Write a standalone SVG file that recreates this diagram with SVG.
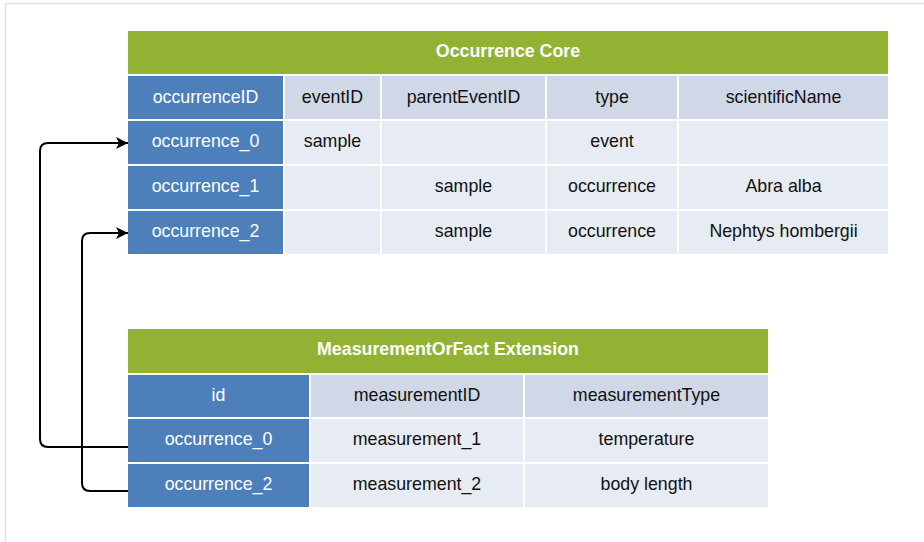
<svg xmlns="http://www.w3.org/2000/svg" width="924" height="542" viewBox="0 0 924 542">
<defs>
<style>
.t{font-family:"Liberation Sans",Arial,Helvetica,sans-serif;font-size:17.8px;text-anchor:middle}
.title{fill:#ffffff;font-weight:bold}
.w{fill:#ffffff}
.k{fill:#111111}
.g{fill:#93b234}
.b{fill:#4d7fbb}
.h{fill:#d0d7e6}
.d{fill:#e7ebf3}
.conn{fill:none;stroke:#000;stroke-width:2;stroke-linejoin:round}
</style>
<marker id="arr" markerWidth="14" markerHeight="12" refX="12" refY="6" orient="auto" markerUnits="userSpaceOnUse">
<path d="M0,0 L12,6 L0,12 L3,6 Z" fill="#000"/>
</marker>
</defs>
<rect x="0" y="0" width="924" height="542" fill="#ffffff"/>
<path d="M5.5,542 V3.5 H924" fill="none" stroke="#e2e2de" stroke-width="1.5"/>

<g id="occurrence-core">
<rect class="g" x="128" y="31" width="760" height="43"/>
<text class="t title" x="508" y="57">Occurrence Core</text>
<rect class="b" x="128" y="76" width="155" height="43"/>
<rect class="h" x="285" y="76" width="95" height="43"/>
<rect class="h" x="382" y="76" width="163" height="43"/>
<rect class="h" x="547" y="76" width="130" height="43"/>
<rect class="h" x="679" y="76" width="209" height="43"/>
<text class="t w" x="205.5" y="102.5">occurrenceID</text>
<text class="t k" x="332.5" y="102.5">eventID</text>
<text class="t k" x="463.5" y="102.5">parentEventID</text>
<text class="t k" x="612" y="102.5">type</text>
<text class="t k" x="783.5" y="102.5">scientificName</text>
<rect class="b" x="128" y="121" width="155" height="43"/>
<rect class="d" x="285" y="121" width="95" height="43"/>
<rect class="d" x="382" y="121" width="163" height="43"/>
<rect class="d" x="547" y="121" width="130" height="43"/>
<rect class="d" x="679" y="121" width="209" height="43"/>
<text class="t w" x="205.5" y="146.5">occurrence_0</text>
<text class="t k" x="332.5" y="146.5">sample</text>
<text class="t k" x="612" y="146.5">event</text>
<rect class="b" x="128" y="166" width="155" height="43"/>
<rect class="d" x="285" y="166" width="95" height="43"/>
<rect class="d" x="382" y="166" width="163" height="43"/>
<rect class="d" x="547" y="166" width="130" height="43"/>
<rect class="d" x="679" y="166" width="209" height="43"/>
<text class="t w" x="205.5" y="191.5">occurrence_1</text>
<text class="t k" x="463.5" y="191.5">sample</text>
<text class="t k" x="612" y="191.5">occurrence</text>
<text class="t k" x="783.5" y="191.5">Abra alba</text>
<rect class="b" x="128" y="211" width="155" height="43"/>
<rect class="d" x="285" y="211" width="95" height="43"/>
<rect class="d" x="382" y="211" width="163" height="43"/>
<rect class="d" x="547" y="211" width="130" height="43"/>
<rect class="d" x="679" y="211" width="209" height="43"/>
<text class="t w" x="205.5" y="236.5">occurrence_2</text>
<text class="t k" x="463.5" y="236.5">sample</text>
<text class="t k" x="612" y="236.5">occurrence</text>
<text class="t k" x="783.5" y="236.5">Nephtys hombergii</text>
</g>

<g id="measurement-extension">
<rect class="g" x="128" y="329" width="640" height="44"/>
<text class="t title" x="448" y="355">MeasurementOrFact Extension</text>
<rect class="b" x="128" y="375" width="181" height="42"/>
<rect class="h" x="311" y="375" width="212" height="42"/>
<rect class="h" x="525" y="375" width="243" height="42"/>
<text class="t w" x="218.5" y="400.5">id</text>
<text class="t k" x="417" y="400.5">measurementID</text>
<text class="t k" x="646.5" y="400.5">measurementType</text>
<rect class="b" x="128" y="419" width="181" height="43"/>
<rect class="d" x="311" y="419" width="212" height="43"/>
<rect class="d" x="525" y="419" width="243" height="43"/>
<text class="t w" x="218.5" y="444.5">occurrence_0</text>
<text class="t k" x="417" y="444.5">measurement_1</text>
<text class="t k" x="646.5" y="444.5">temperature</text>
<rect class="b" x="128" y="464" width="181" height="43"/>
<rect class="d" x="311" y="464" width="212" height="43"/>
<rect class="d" x="525" y="464" width="243" height="43"/>
<text class="t w" x="218.5" y="489.5">occurrence_2</text>
<text class="t k" x="417" y="489.5">measurement_2</text>
<text class="t k" x="646.5" y="489.5">body length</text>
</g>

<g id="connectors">
<path class="conn" d="M128,447 H48 Q40,447 40,439 V151 Q40,143 48,143 H128" marker-end="url(#arr)"/>
<path class="conn" d="M128,491 H90 Q82,491 82,483 V241 Q82,233 90,233 H128" marker-end="url(#arr)"/>
</g>
</svg>
